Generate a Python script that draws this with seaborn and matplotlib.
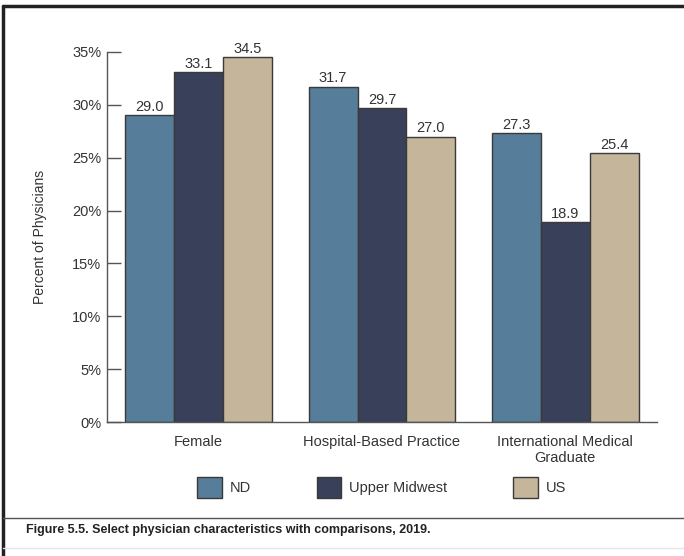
import pandas as pd
import matplotlib.pyplot as plt
import seaborn as sns
from matplotlib.lines import Line2D
from matplotlib.patches import Patch

# Data
categories = ["Female", "Hospital-Based Practice", "International Medical\nGraduate"]
groups = ["ND", "Upper Midwest", "US"]
nd_vals = [29.0, 31.7, 27.3]
midwest_vals = [33.1, 29.7, 18.9]
us_vals = [34.5, 27.0, 25.4]
yticks = [0, 5, 10, 15, 20, 25, 30, 35]
colors = {"ND": "#567d99", "Upper Midwest": "#394059", "US": "#c5b59b"}

df = pd.DataFrame({
    "Category": categories * 3,
    "Group": ["ND"] * 3 + ["Upper Midwest"] * 3 + ["US"] * 3,
    "Value": nd_vals + midwest_vals + us_vals,
})

sns.set_style("white")
plt.rcParams["font.family"] = ["Liberation Sans", "DejaVu Sans"]
text_col = "#333333"

fig = plt.figure(figsize=(6.84, 5.56), dpi=100)
ax = fig.add_axes([0.1564, 0.241, 0.8041, 0.6655])

sns.barplot(data=df, x="Category", y="Value", hue="Group", order=categories,
            hue_order=groups, palette=colors, saturation=1, edgecolor="#3a3a3a",
            linewidth=1, width=0.8, legend=False, ax=ax)

for c in ax.containers:
    ax.bar_label(c, fmt="%.1f", padding=1, fontsize=10.5, color=text_col)

ax.set_ylim(0, 35)
ax.set_xlim(-0.5, 2.5)
ax.set_yticks(yticks)
ax.set_yticklabels([f"{t}%" for t in yticks], fontsize=10.5, color=text_col)
ax.tick_params(axis="y", left=True, direction="in", length=10, width=1,
               color="#555555", pad=4)
ax.tick_params(axis="x", bottom=False, length=0, pad=9, labelsize=10.5,
               labelcolor=text_col)
ax.set_xlabel("")
ax.set_ylabel("Percent of Physicians", fontsize=10, color=text_col, labelpad=18)

for s in ["top", "right"]:
    ax.spines[s].set_visible(False)
for s in ["left", "bottom"]:
    ax.spines[s].set_color("#555555")
    ax.spines[s].set_linewidth(1)

handles = [Patch(facecolor=colors[g], edgecolor="#3a3a3a", linewidth=1, label=g) for g in groups]
fig.legend(handles=handles, loc="center", bbox_to_anchor=(0.558, 0.124), ncol=3,
           frameon=False, fontsize=10.5, handlelength=1.7, handleheight=1.85,
           handletextpad=0.55, columnspacing=4.5, labelcolor=text_col)

# frame and caption
fig.add_artist(Line2D([0.004, 1.0], [0.989, 0.989], color="#222222", lw=2.5))
fig.add_artist(Line2D([0.005, 0.005], [0.0, 0.989], color="#222222", lw=2.5))
fig.add_artist(Line2D([0.005, 1.0], [0.068, 0.068], color="#555555", lw=1))
fig.add_artist(Line2D([0.005, 1.0], [0.014, 0.014], color="#e6e6e6", lw=1))
fig.text(0.038, 0.047, "Figure 5.5. Select physician characteristics with comparisons, 2019.",
         fontsize=9, fontweight="bold", color="#222222", va="center")

fig.savefig("out.png", dpi=100)
